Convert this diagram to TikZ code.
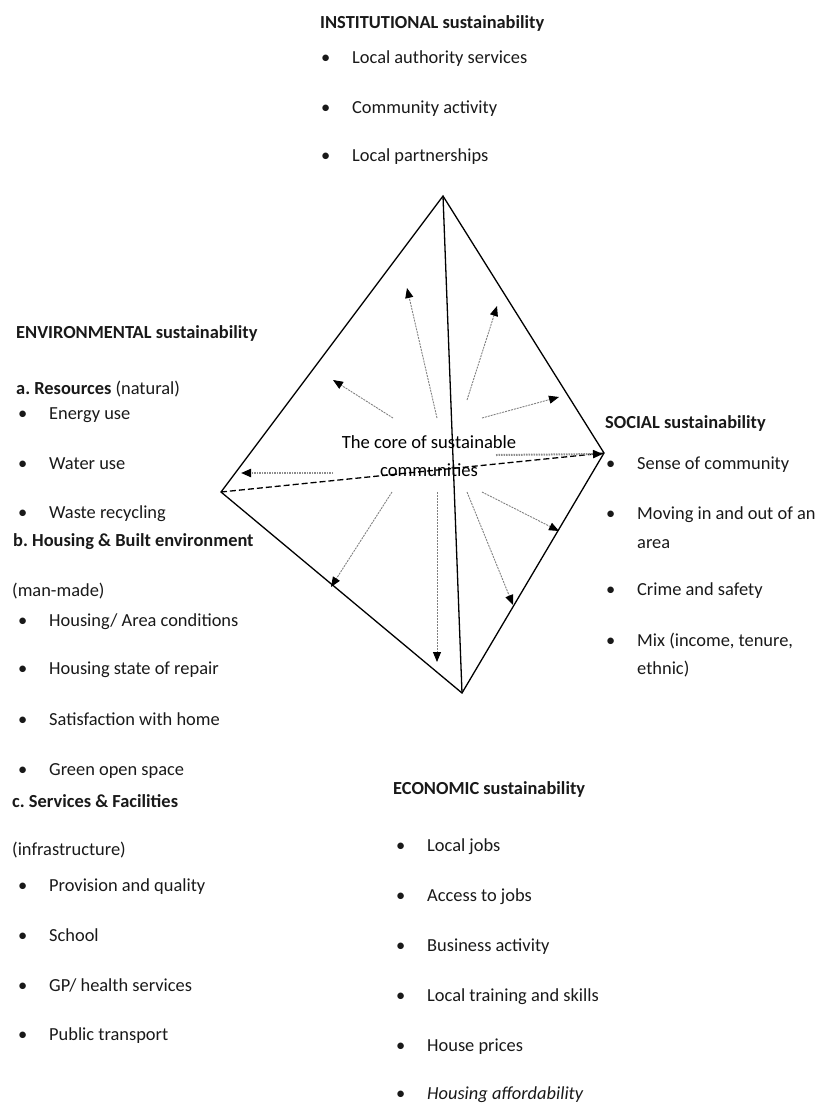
\documentclass[tikz,border=0pt]{standalone}
\usepackage{fontspec}
\setmainfont{Carlito}
\usetikzlibrary{arrows.meta}
\newcommand{\bul}{\makebox[31pt][l]{•}}
\tikzset{
  txt/.style={anchor=base west, inner sep=0pt, font=\fontsize{18.4}{22}\selectfont, text=black!90},
  edge/.style={draw=black, line width=1.3pt, line join=miter},
  axis/.style={draw=black, line width=1.3pt, dash pattern=on 6pt off 3pt},
  ray/.style={draw=black!50, line width=0.9pt, dash pattern=on 2pt off 1pt, -{Triangle[length=10pt,width=8pt,color=black]}},
  hray/.style={draw=black!45, line width=2pt, dash pattern=on 1.5pt off 1pt, -{Triangle[length=10pt,width=8pt,color=black]}},
  core/.style={inner sep=0pt, align=center, font=\fontsize{18.6}{28}\selectfont, text=black}
}
\begin{document}
\frenchspacing
\begin{tikzpicture}[x=1pt,y=-1pt]
\useasboundingbox (0,0) rectangle (818,1106);
% diamond
\coordinate (T) at (443,196);
\coordinate (L) at (221,492);
\coordinate (R) at (604,453);
\coordinate (B) at (462,693);
\draw[edge] (T) -- (R) -- (B) -- (L) -- cycle;
\draw[edge] (T) -- (B);
\draw[axis] (L) -- (R);
% rays
\coordinate (s1) at (437,418); \coordinate (e1) at (407,288);
\coordinate (s2) at (467,400); \coordinate (e2) at (497,306);
\coordinate (s3) at (393,418); \coordinate (e3) at (333,380);
\coordinate (s4) at (482,418); \coordinate (e4) at (559,397);
\coordinate (s5) at (333,473); \coordinate (e5) at (241,473);
\coordinate (s6) at (496,455); \coordinate (e6) at (603,454);
\coordinate (s7) at (392,492); \coordinate (e7) at (331,587);
\coordinate (s8) at (437,492); \coordinate (e8) at (437,662);
\coordinate (s9) at (467,492); \coordinate (e9) at (513,605);
\coordinate (s10) at (482,492); \coordinate (e10) at (559,531);
\draw[ray] (s1) -- (e1);
\draw[ray] (s2) -- (e2);
\draw[ray] (s3) -- (e3);
\draw[ray] (s4) -- (e4);
\draw[hray] (s5) -- (e5);
\draw[hray] (s6) -- (e6);
\draw[ray] (s7) -- (e7);
\draw[ray] (s8) -- (e8);
\draw[ray] (s9) -- (e9);
\draw[ray] (s10) -- (e10);
\node[core] (core) at (429,456) {The core of sustainable\\communities};
% institutional
\node[txt] (inst) at (320,28) {\textbf{INSTITUTIONAL sustainability}};
\node[txt] (i1) at (321,63) {\bul Local authority services};
\node[txt] (i2) at (321,113) {\bul Community activity};
\node[txt] (i3) at (321,161) {\bul Local partnerships};
% environmental
\node[txt] (env) at (16,338) {\textbf{ENVIRONMENTAL sustainability}};
\node[txt] (ea) at (16,394) {\textbf{a. Resources} (natural)};
\node[txt] (e1t) at (18,419) {\bul Energy use};
\node[txt] (e2t) at (18,469) {\bul Water use};
\node[txt] (e3t) at (18,518) {\bul Waste recycling};
\node[txt] (eb) at (13,546) {\textbf{b. Housing \& Built environment}};
\node[txt] (ebm) at (12,596) {(man-made)};
\node[txt] (e4t) at (18,626) {\bul Housing/ Area conditions};
\node[txt] (e5t) at (18,674) {\bul Housing state of repair};
\node[txt] (e6t) at (18,725) {\bul Satisfaction with home};
\node[txt] (e7t) at (18,775) {\bul Green open space};
\node[txt] (ec) at (12,807) {\textbf{c. Services \& Facilities}};
\node[txt] (eci) at (12,855) {(infrastructure)};
\node[txt] (e8t) at (18,891) {\bul Provision and quality};
\node[txt] (e9t) at (18,941) {\bul School};
\node[txt] (e10t) at (18,991) {\bul GP/ health services};
\node[txt] (e11t) at (18,1040) {\bul Public transport};
% social
\node[txt] (soc) at (605,428) {\textbf{SOCIAL sustainability}};
\node[txt] (so1) at (606,469) {\bul Sense of community};
\node[txt] (so2) at (606,519) {\bul Moving in and out of an};
\node[txt] (so2b) at (637,548) {area};
\node[txt] (so3) at (606,595) {\bul Crime and safety};
\node[txt] (so4) at (606,646) {\bul Mix (income, tenure,};
\node[txt] (so4b) at (637,674) {ethnic)};
% economic
\node[txt] (eco) at (393,794) {\textbf{ECONOMIC sustainability}};
\node[txt] (ec1) at (396,851) {\bul Local jobs};
\node[txt] (ec2) at (396,901) {\bul Access to jobs};
\node[txt] (ec3) at (396,951) {\bul Business activity};
\node[txt] (ec4) at (396,1001) {\bul Local training and skills};
\node[txt] (ec5) at (396,1051) {\bul House prices};
\node[txt] (ec6) at (396,1099) {\bul \textit{Housing affordability}};
\end{tikzpicture}
\end{document}
